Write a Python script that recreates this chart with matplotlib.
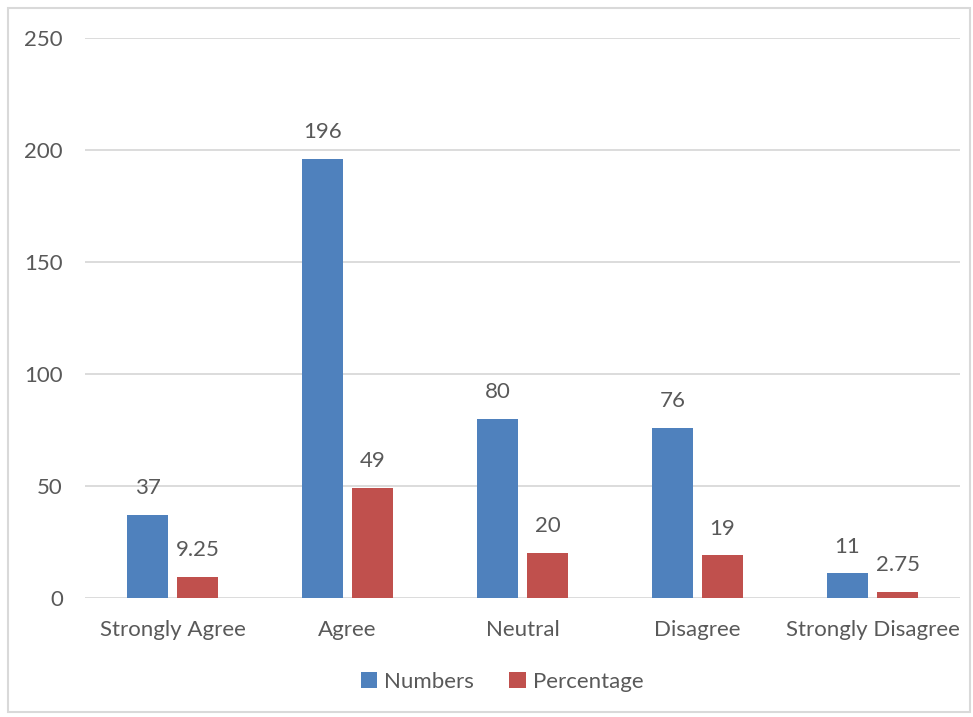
import matplotlib.pyplot as plt
import numpy as np
from matplotlib.patches import Rectangle

categories = ["Strongly Agree", "Agree", "Neutral", "Disagree", "Strongly Disagree"]
numbers = [37, 196, 80, 76, 11]
percentage = [9.25, 49, 20, 19, 2.75]
pct_labels = ["9.25", "49", "20", "19", "2.75"]

plt.rcParams['font.family'] = ['Lato', 'DejaVu Sans']
text_col = "#595959"
blue = "#4f81bd"
red = "#c0504d"
fs = 16

fig = plt.figure(figsize=(9.73, 7.17), dpi=100)
ax = fig.add_axes([85 / 973, 1 - 598 / 717, 875 / 973, 560 / 717])

x = np.arange(len(categories))
w = 0.229
off = 0.143
b1 = ax.bar(x - off, numbers, w, color=blue, label="Numbers", zorder=3)
b2 = ax.bar(x + off, percentage, w, color=red, label="Percentage", zorder=3)

# value labels above bars
for rect, v in zip(b1, numbers):
    ax.text(rect.get_x() + rect.get_width() / 2, v + 7.5, str(v),
            ha="center", va="bottom", fontsize=fs, color=text_col)
for rect, v, s in zip(b2, percentage, pct_labels):
    ax.text(rect.get_x() + rect.get_width() / 2, v + 7.5, s,
            ha="center", va="bottom", fontsize=fs, color=text_col)

ax.set_xlim(-0.5, len(categories) - 0.5)
ax.set_ylim(0, 250)
ax.set_yticks(range(0, 251, 50))
ax.set_xticks(x)
ax.set_xticklabels(categories)
ax.grid(axis="y", color="#d9d9d9", linewidth=1.3, zorder=0)
for s in ax.spines.values():
    s.set_visible(False)
ax.tick_params(axis="both", length=0, labelsize=fs, labelcolor=text_col)
ax.tick_params(axis="y", pad=16)
ax.tick_params(axis="x", pad=16)

fig.legend(handles=[b1, b2], loc="center", bbox_to_anchor=(502 / 973, 1 - 682 / 717),
           ncol=2, frameon=False, fontsize=fs, labelcolor=text_col,
           handlelength=0.75, handleheight=0.75, handletextpad=0.3, columnspacing=1.6)

fig.patches.append(Rectangle((8 / 973, 5 / 717), 962 / 973, 704 / 717, transform=fig.transFigure,
                             fill=False, edgecolor="#d9d9d9", linewidth=1.5))

fig.savefig("out.png", dpi=100)
